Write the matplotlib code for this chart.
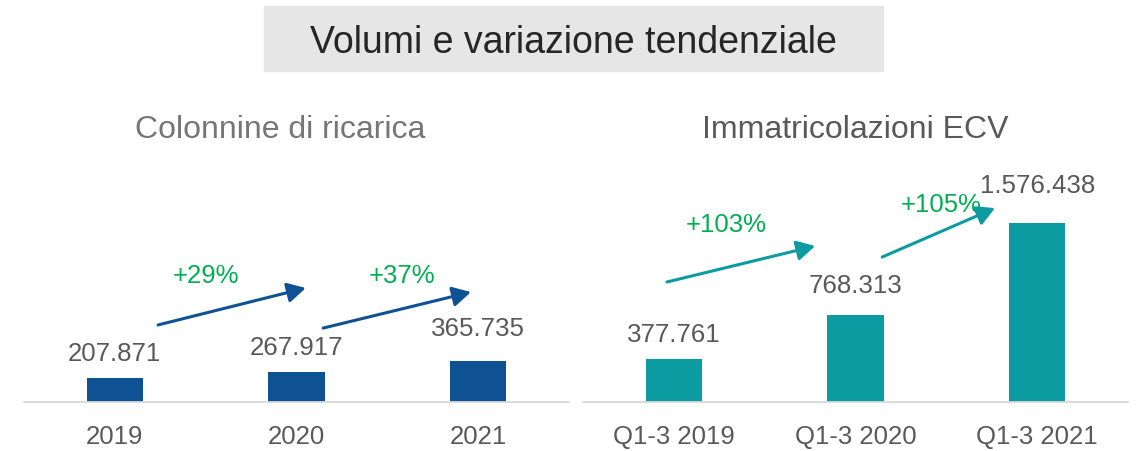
import matplotlib
matplotlib.use("Agg")
import matplotlib.pyplot as plt
from matplotlib.patches import Rectangle

plt.rcParams['font.family'] = ['Liberation Sans', 'DejaVu Sans']

# dati
anni_colonnine = ['2019', '2020', '2021']
colonnine = [207871, 267917, 365735]
var_colonnine = ['+29%', '+37%']

periodi_ecv = ['Q1-3 2019', 'Q1-3 2020', 'Q1-3 2021']
immatricolazioni = [377761, 768313, 1576438]
var_ecv = ['+103%', '+105%']

# colori
BLU = '#0F5294'
TEAL = '#0B9BA1'
VERDE = '#00B050'
GRIGIO = '#595959'

W, H = 1140, 452
fig = plt.figure(figsize=(W / 100, H / 100), dpi=100)


def fmt(v):
    return f"{v:,}".replace(',', '.')


def pannello(left_px, labels, values, color, offsets, pct, pct_pos, arrows):
    ax = fig.add_axes([left_px / W, (H - 403) / H, 545 / W, 240 / H])
    x = range(len(values))
    ax.bar(x, values, width=0.31, color=color)
    ax.set_xlim(-0.5, 2.5)
    # stessa scala per entrambi i pannelli (~1.134e-4 px per unità)
    ax.set_ylim(0, 240 / 1.134e-4)
    ax.set_xticks(list(x))
    ax.set_xticklabels(labels, fontsize=18.5, color=GRIGIO)
    ax.tick_params(axis='x', length=0, pad=15.5)
    ax.set_yticks([])
    for s in ['top', 'right', 'left']:
        ax.spines[s].set_visible(False)
    ax.spines['bottom'].set_color('#D9D9D9')
    ax.spines['bottom'].set_linewidth(1.3)
    for i, v in enumerate(values):
        ax.annotate(fmt(v), xy=(i, v), xytext=(0, offsets[i]), textcoords='offset pixels',
                    ha='center', va='baseline', fontsize=18.6, color=GRIGIO)
    for t, (px, py) in zip(pct, pct_pos):
        ax.text(px, py, t, transform=ax.transAxes, ha='center', va='baseline',
                fontsize=18.5, color=VERDE)
    for (x0, y0), (x1, y1) in arrows:
        ax.annotate('', xy=(x1, y1), xytext=(x0, y0), xycoords='axes fraction',
                    textcoords='axes fraction',
                    arrowprops=dict(arrowstyle='-|>,head_length=0.55,head_width=0.3',
                                    color=color, lw=2.2, mutation_scale=20,
                                    shrinkA=0, shrinkB=0))
    return ax


pannello(24, anni_colonnine, colonnine, BLU, [18, 18, 26], var_colonnine,
         [(0.334, 0.5), (0.694, 0.5)],
         [((0.246, 0.321), (0.517, 0.475)), ((0.549, 0.308), (0.820, 0.458))])

pannello(583, periodi_ecv, immatricolazioni, TEAL, [18, 23, 31], var_ecv,
         [(0.262, 0.7125), (0.658, 0.796)],
         [((0.154, 0.5), (0.426, 0.65)), ((0.549, 0.604), (0.756, 0.808))])

# titolo con riquadro grigio
fig.patches.append(Rectangle((264 / W, 1 - 72 / H), 619 / W, 65 / H,
                             transform=fig.transFigure, color='#E7E6E6', zorder=0))
fig.text(573.5 / W, 1 - 53 / H, 'Volumi e variazione tendenziale', ha='center',
         va='baseline', fontsize=27, color='#262626')

# sottotitoli
fig.text(280 / W, 1 - 138 / H, 'Colonnine di ricarica', ha='center', va='baseline',
         fontsize=23, color='#767676')
fig.text(855 / W, 1 - 138 / H, 'Immatricolazioni ECV', ha='center', va='baseline',
         fontsize=23, color=GRIGIO)

fig.savefig('out.png', dpi=100)
